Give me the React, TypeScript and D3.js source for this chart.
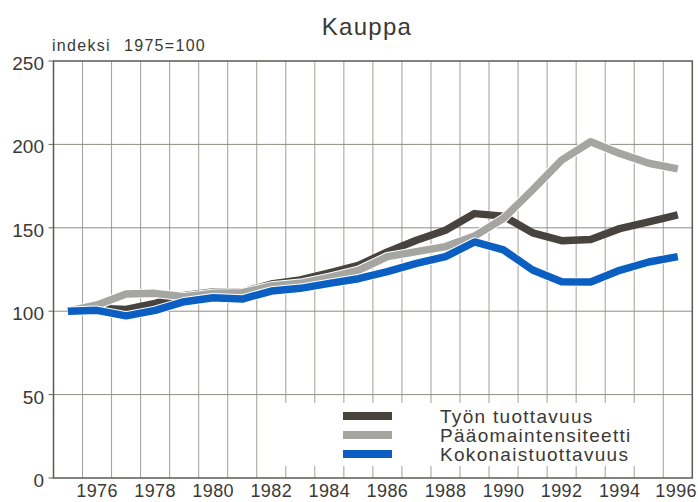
import React from "react";
import * as d3 from "d3";

const years = [1975,1976,1977,1978,1979,1980,1981,1982,1983,1984,1985,1986,1987,1988,1989,1990,1991,1992,1993,1994,1995,1996];
const tyonTuottavuus = [100,101.7,101,104.7,109.5,111.5,111.5,116.3,118.7,123,127.5,135.5,142.5,148.5,158.5,157,147,142.3,143,149.5,153.5,157.7];
const paaomaintensiteetti = [100,103.7,110.3,110.7,108.7,110.7,111.1,115.1,116.7,120.3,124.5,132.7,135.7,138.7,145,155.7,172.7,190.6,201.6,194.6,188.7,185.3];
const kokonaistuottavuus = [100,100.5,97.2,100.5,105.7,108.1,107.3,112.1,113.7,116.7,119.5,123.7,128.7,132.7,141.5,136.7,124.7,117.7,117.5,124.5,129.5,132.7];
const yTicks = [0,50,100,150,200,250];
const xLabels = [1976,1978,1980,1982,1984,1986,1988,1990,1992,1994,1996];
const seriesNames = ["Työn tuottavuus","Pääomaintensiteetti","Kokonaistuottavuus"];
const seriesColors = ["#47433e","#a5a5a1","#0b5fc2"];

export default function App() {
  const left = 53.5, right = 692.3, top = 61, bottom = 478;
  const x = d3.scaleLinear().domain([1974.5, 1996.5]).range([left, right]);
  const y = d3.scaleLinear().domain([0, 250]).range([bottom, top]);
  const line = d3.line<number>().x((_, i) => x(years[i])).y(v => y(v));
  const seriesData = [tyonTuottavuus, paaomaintensiteetti, kokonaistuottavuus];
  const vGrid = d3.range(1975.5, 1996.5, 1);
  const textColor = "#3b3935";
  const font = "'Liberation Sans', Arial, sans-serif";
  return (
    <div style={{ position: "fixed", left: 0, top: 0 }}>
      <svg width={698} height={502} style={{ display: "block", background: "#fff" }}>
        <text x={367} y={35} textAnchor="middle" fontFamily={font} fontSize={24} letterSpacing={1.3} fill={textColor}>Kauppa</text>
        <text x={52} y={51} fontFamily={font} fontSize={16} letterSpacing={1.3} fill={textColor}>indeksi</text>
        <text x={124} y={51} fontFamily={font} fontSize={16} letterSpacing={1.3} fill={textColor}>1975=100</text>
        {vGrid.map(v => (
          <line key={"v" + v} x1={x(v)} x2={x(v)} y1={top} y2={bottom} stroke="#a09f96" strokeWidth={1} />
        ))}
        {yTicks.slice(1, -1).map(t => (
          <line key={"h" + t} x1={left} x2={right} y1={y(t)} y2={y(t)} stroke="#8f8e85" strokeWidth={1} />
        ))}
        <rect x={272} y={403} width={380} height={63} fill="#fff" />
        {yTicks.map(t => (
          <g key={"t" + t}>
            <line x1={left - 5} x2={left} y1={y(t)} y2={y(t)} stroke="#66645d" strokeWidth={1} />
            <text x={44} y={y(t) + 9} textAnchor="end" fontFamily={font} fontSize={19} fill={textColor}>{t}</text>
          </g>
        ))}
        <rect x={left} y={top} width={right - left} height={bottom - top} fill="none" stroke="#5c5a54" strokeWidth={1.5} />
        {xLabels.map((l, i) => {
          const last = i === xLabels.length - 1;
          return (
            <text key={"x" + l} x={last ? 697 : x(l)} y={497} textAnchor={last ? "end" : "middle"} fontFamily={font} fontSize={18} letterSpacing={0.4} fill={textColor}>{l}</text>
          );
        })}
        {seriesData.map((d, i) => (
          <g key={"s" + i}>
            {i > 0 && <path d={line(d) || ""} fill="none" stroke="#fff" strokeWidth={9.5} strokeLinejoin="round" />}
            <path d={line(d) || ""} fill="none" stroke={seriesColors[i]} strokeWidth={7.5} strokeLinejoin="round" />
          </g>
        ))}
        {seriesNames.map((n, i) => (
          <g key={"l" + i}>
            <rect x={343} y={412 + i * 19} width={49} height={8} fill={seriesColors[i]} />
            <text x={440} y={423 + i * 19} fontFamily={font} fontSize={19} letterSpacing={1.3} fill={textColor}>{n}</text>
          </g>
        ))}
      </svg>
    </div>
  );
}
